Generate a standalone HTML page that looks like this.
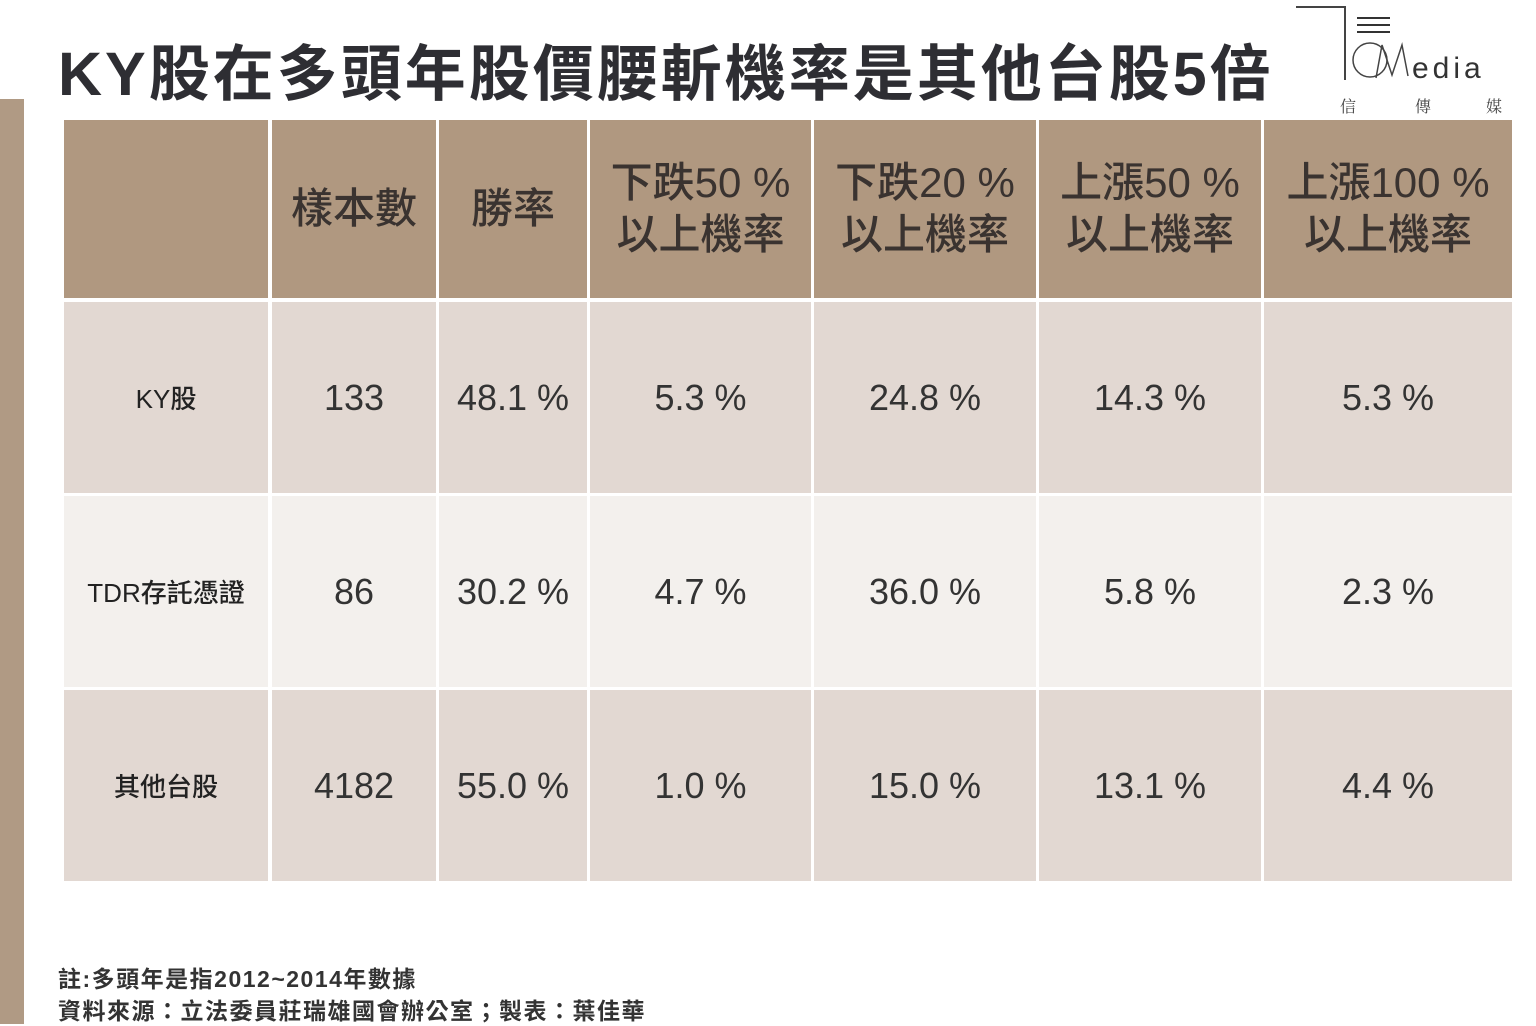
<!DOCTYPE html>
<html><head><meta charset="utf-8"><style>
body{margin:0;width:1536px;height:1024px;background:#fff;position:relative;overflow:hidden;font-family:"Liberation Sans","Noto Sans CJK TC",sans-serif;color:#333}
.bar{position:absolute;left:0;top:99px;width:24px;height:925px;background:#b09a84}
.title{position:absolute;left:58px;top:24px;font-size:61px;font-weight:bold;color:#2e2e33;white-space:nowrap;letter-spacing:3px}
.c{position:absolute;display:flex;align-items:center;justify-content:center;text-align:center}
.h{background:#b09880;color:#3a3330;font-size:42px;line-height:52px;font-weight:500}
.r1{background:#e2d8d2}.r2{background:#f3f0ed}.r3{background:#e2d8d2}
.n{font-size:36px;color:#333}
.l{font-size:26px;color:#222;font-weight:500}
.note{position:absolute;left:58px;font-size:23px;font-weight:bold;color:#333;letter-spacing:1.5px}
</style></head><body>
<div class="bar"></div>
<div class="title">KY股在多頭年股價腰斬機率是其他台股5倍</div>
<svg style="position:absolute;left:1290px;top:0" width="230" height="120">
<polyline points="6,7 55,7 55,80" fill="none" stroke="#444" stroke-width="2"/>
<line x1="67" y1="18" x2="100" y2="18" stroke="#333" stroke-width="2"/>
<line x1="67" y1="25" x2="100" y2="25" stroke="#333" stroke-width="2"/>
<line x1="67" y1="32" x2="100" y2="32" stroke="#333" stroke-width="2"/>
<circle cx="80" cy="60" r="17" fill="none" stroke="#444" stroke-width="1.5"/>
<polyline points="86,78 92,45 102,75 112,45 118,76" fill="none" stroke="#444" stroke-width="1.5"/>
<text x="122" y="78" font-size="30" fill="#333" font-family="Liberation Sans" letter-spacing="4">edia</text>
<text x="50" y="112" font-size="16" fill="#444" font-family="Noto Serif CJK SC">信</text>
<text x="125" y="112" font-size="16" fill="#444" font-family="Noto Serif CJK SC">傳</text>
<text x="196" y="112" font-size="16" fill="#444" font-family="Noto Serif CJK SC">媒</text>
</svg>
<div class="c h" style="left:64px;top:120px;width:204px;height:178px"></div>
<div class="c h" style="left:272px;top:120px;width:164px;height:178px">樣本數</div>
<div class="c h" style="left:439px;top:120px;width:148px;height:178px">勝率</div>
<div class="c h" style="left:590px;top:120px;width:221px;height:178px">下跌50 %<br>以上機率</div>
<div class="c h" style="left:814px;top:120px;width:222px;height:178px">下跌20 %<br>以上機率</div>
<div class="c h" style="left:1039px;top:120px;width:222px;height:178px">上漲50 %<br>以上機率</div>
<div class="c h" style="left:1264px;top:120px;width:248px;height:178px">上漲100 %<br>以上機率</div>

<div class="c r1 l" style="left:64px;top:302px;width:204px;height:191px">KY股</div>
<div class="c r1 n" style="left:272px;top:302px;width:164px;height:191px">133</div>
<div class="c r1 n" style="left:439px;top:302px;width:148px;height:191px">48.1 %</div>
<div class="c r1 n" style="left:590px;top:302px;width:221px;height:191px">5.3 %</div>
<div class="c r1 n" style="left:814px;top:302px;width:222px;height:191px">24.8 %</div>
<div class="c r1 n" style="left:1039px;top:302px;width:222px;height:191px">14.3 %</div>
<div class="c r1 n" style="left:1264px;top:302px;width:248px;height:191px">5.3 %</div>

<div class="c r2 l" style="left:64px;top:496px;width:204px;height:191px">TDR存託憑證</div>
<div class="c r2 n" style="left:272px;top:496px;width:164px;height:191px">86</div>
<div class="c r2 n" style="left:439px;top:496px;width:148px;height:191px">30.2 %</div>
<div class="c r2 n" style="left:590px;top:496px;width:221px;height:191px">4.7 %</div>
<div class="c r2 n" style="left:814px;top:496px;width:222px;height:191px">36.0 %</div>
<div class="c r2 n" style="left:1039px;top:496px;width:222px;height:191px">5.8 %</div>
<div class="c r2 n" style="left:1264px;top:496px;width:248px;height:191px">2.3 %</div>

<div class="c r3 l" style="left:64px;top:690px;width:204px;height:191px">其他台股</div>
<div class="c r3 n" style="left:272px;top:690px;width:164px;height:191px">4182</div>
<div class="c r3 n" style="left:439px;top:690px;width:148px;height:191px">55.0 %</div>
<div class="c r3 n" style="left:590px;top:690px;width:221px;height:191px">1.0 %</div>
<div class="c r3 n" style="left:814px;top:690px;width:222px;height:191px">15.0 %</div>
<div class="c r3 n" style="left:1039px;top:690px;width:222px;height:191px">13.1 %</div>
<div class="c r3 n" style="left:1264px;top:690px;width:248px;height:191px">4.4 %</div>

<div class="note" style="top:960px">註:多頭年是指2012~2014年數據</div>
<div class="note" style="top:992px">資料來源：立法委員莊瑞雄國會辦公室；製表：葉佳華</div>
</body></html>
